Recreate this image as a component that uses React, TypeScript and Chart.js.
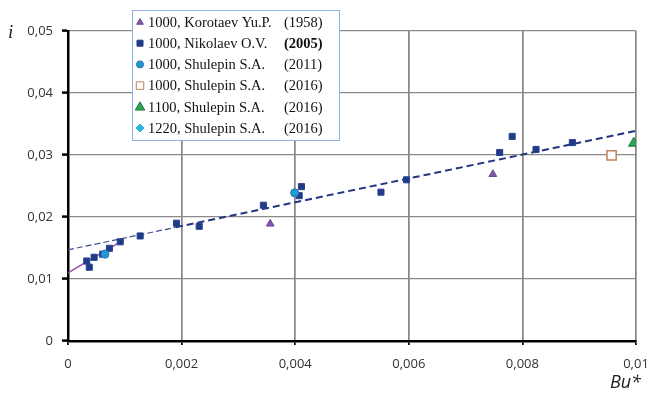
import React, { useEffect, useRef } from "react";
import { Chart, registerables } from "chart.js";

Chart.register(...registerables);

// ---- data ----
const korotaevBu = [0.00356, 0.00748];
const korotaevI = [0.0189, 0.0269];

const nikolaevBu = [0.00033, 0.000375, 0.00046, 0.00061, 0.00073, 0.00092, 0.00127, 0.00191, 0.00231, 0.00344, 0.00407, 0.00411, 0.00551, 0.00596, 0.0076, 0.00782, 0.00824, 0.00888];
const nikolaevI = [0.0129, 0.0119, 0.0135, 0.014, 0.01495, 0.016, 0.01694, 0.019, 0.0185, 0.0219, 0.02344, 0.0249, 0.024, 0.026, 0.0304, 0.033, 0.0309, 0.032];

const shulepin2011Bu = [0.00065, 0.00399];
const shulepin2011I = [0.014, 0.0239];

const shulepin2016Bu = [0.00957];
const shulepin2016I = [0.02995];

const shulepin1100Bu = [0.00996];
const shulepin1100I = [0.0319];

const shulepin1220Bu: number[] = [];
const shulepin1220I: number[] = [];

const lowFitBu = [0, 0.00092];
const lowFitI = [0.011, 0.016];

const trendBackBu = [0, 0.0019];
const trendBackI = [0.0147, 0.01835];
const trendBu = [0.0019, 0.01];
const trendI = [0.01835, 0.0339];

const xTicks = [0, 0.002, 0.004, 0.006, 0.008, 0.01];
const yTicks = [0, 0.01, 0.02, 0.03, 0.04, 0.05];

const legendLabels = [
  "1000, Korotaev Yu.P.",
  "1000, Nikolaev O.V.",
  "1000, Shulepin S.A.",
  "1000, Shulepin S.A.",
  "1100, Shulepin S.A.",
  "1220, Shulepin S.A.",
];
const legendYears = ["(1958)", "(2005)", "(2011)", "(2016)", "(2016)", "(2016)"];

const pts = (xs: number[], ys: number[]) => xs.map((x, i) => ({ x, y: ys[i] }));
const fmt = (v: number) => String(Number(v.toFixed(4))).replace(".", ",");

const LABEL_FONT = "'Open Sans', sans-serif";
const SERIF = "'Liberation Serif', 'Times New Roman', serif";

export default function App() {
  const ref = useRef<HTMLCanvasElement | null>(null);

  useEffect(() => {
    if (!ref.current) return;

    const markerStyles = [
      { style: "triangle", bg: "#7E5AA6", border: "#6A4A92", r: 3.5 },
      { style: "rect", bg: "#213A86", border: "#213A86", r: 4 },
      { style: "circle", bg: "#1E9AD6", border: "#2C6FB0", r: 3.5 },
      { style: "rect", bg: "#ffffff", border: "#C0805A", r: 5 },
      { style: "triangle", bg: "#2FA35A", border: "#1E7A40", r: 5 },
      { style: "rectRot", bg: "#2BB3E3", border: "#2BB3E3", r: 4 },
    ];

    function drawMarker(ctx: CanvasRenderingContext2D, style: string, x: number, y: number, r: number, bg: string, border: string) {
      ctx.beginPath();
      if (style === "triangle") {
        ctx.moveTo(x, y - r);
        ctx.lineTo(x + r * 0.95, y + r * 0.65);
        ctx.lineTo(x - r * 0.95, y + r * 0.65);
        ctx.closePath();
      } else if (style === "rect") {
        const s = r * 0.75;
        ctx.rect(x - s, y - s, 2 * s, 2 * s);
      } else if (style === "circle") {
        ctx.arc(x, y, r, 0, Math.PI * 2);
      } else {
        ctx.moveTo(x, y - r);
        ctx.lineTo(x + r, y);
        ctx.lineTo(x, y + r);
        ctx.lineTo(x - r, y);
        ctx.closePath();
      }
      ctx.fillStyle = bg;
      ctx.fill();
      ctx.lineWidth = 1;
      ctx.strokeStyle = border;
      ctx.stroke();
    }

    const overlay = {
      id: "overlay",
      afterDraw(chart: any) {
        const ctx = chart.ctx as CanvasRenderingContext2D;
        ctx.save();
        // axis titles
        ctx.fillStyle = "#222";
        ctx.textBaseline = "middle";
        ctx.font = "italic 19px " + SERIF;
        ctx.textAlign = "left";
        ctx.fillText("i", 8, 33);
        ctx.font = "italic 18px 'Open Sans', sans-serif";
        ctx.textAlign = "right";
        ctx.fillText("Bu*", 641, 383);

        // legend box
        const bx = 132.5, by = 10.5, bw = 207, bh = 130;
        ctx.fillStyle = "#ffffff";
        ctx.fillRect(bx, by, bw, bh);
        ctx.strokeStyle = "#8EB4E3";
        ctx.lineWidth = 1;
        ctx.strokeRect(bx, by, bw, bh);

        for (let i = 0; i < legendLabels.length; i++) {
          const cy = 22 + i * 21.2;
          const m = markerStyles[i];
          drawMarker(ctx, m.style, 140, cy, m.r, m.bg, m.border);
          ctx.fillStyle = "#111";
          ctx.textAlign = "left";
          ctx.textBaseline = "middle";
          ctx.font = "14.5px " + SERIF;
          ctx.fillText(legendLabels[i], 148, cy + 1);
          ctx.font = (i === 1 ? "bold " : "") + "14.5px " + SERIF;
          ctx.fillText(legendYears[i], 284, cy + 1);
        }
        ctx.restore();
      },
    };

    const lineDs = (data: any, color: string, width: number, dash: number[]) => ({
      type: "line" as const,
      data,
      borderColor: color,
      borderWidth: width,
      borderDash: dash,
      pointRadius: 0,
      showLine: true,
      fill: false,
      order: 5,
    });

    const chart = new Chart(ref.current, {
      type: "scatter",
      data: {
        datasets: [
          lineDs(pts(lowFitBu, lowFitI), "#9A4FB0", 1.5, []),
          lineDs(pts(trendBackBu, trendBackI), "#3D4F92", 1.2, [6, 3]),
          lineDs(pts(trendBu, trendI), "#22377F", 2, [7, 4]),
          {
            data: pts(korotaevBu, korotaevI),
            pointStyle: "triangle",
            pointRadius: 4.5,
            backgroundColor: "#7E5AA6",
            borderColor: "#6A4A92",
            borderWidth: 1,
            order: 1,
          },
          {
            data: pts(nikolaevBu, nikolaevI),
            pointStyle: "rect",
            pointRadius: 4.3,
            backgroundColor: "#213A86",
            borderColor: "#2A4390",
            borderWidth: 1,
            order: 1,
          },
          {
            data: pts(shulepin2011Bu, shulepin2011I),
            pointStyle: "circle",
            pointRadius: 4,
            backgroundColor: "#1E9AD6",
            borderColor: "#2C6FB0",
            borderWidth: 1,
            order: 0,
          },
          {
            data: pts(shulepin2016Bu, shulepin2016I),
            pointStyle: "rect",
            pointRadius: 6.5,
            backgroundColor: "#ffffff",
            borderColor: "#C0805A",
            borderWidth: 1.5,
            order: 1,
          },
          {
            data: pts(shulepin1100Bu, shulepin1100I),
            pointStyle: "triangle",
            pointRadius: 6,
            backgroundColor: "#2FA35A",
            borderColor: "#1E7A40",
            borderWidth: 1,
            order: 1,
          },
          {
            data: pts(shulepin1220Bu, shulepin1220I),
            pointStyle: "rectRot",
            pointRadius: 5,
            backgroundColor: "#2BB3E3",
            borderColor: "#2BB3E3",
            order: 1,
          },
        ] as any,
      },
      options: {
        animation: false,
        responsive: false,
        devicePixelRatio: 1,
        layout: { padding: { top: 31, right: 14, left: 0, bottom: 0 } },
        plugins: { legend: { display: false }, tooltip: { enabled: false } },
        scales: {
          x: {
            type: "linear",
            min: 0,
            max: 0.01,
            afterBuildTicks: (axis: any) => {
              axis.ticks = xTicks.map((v) => ({ value: v }));
            },
            afterFit: (axis: any) => {
              axis.height = 56;
              axis.paddingLeft = 0;
              axis.paddingRight = 0;
            },
            ticks: {
              callback: (v: any) => fmt(Number(v)),
              color: "#333",
              font: { family: LABEL_FONT, size: 13 },
              padding: 11,
              maxRotation: 0,
            },
            grid: {
              color: "#858585",
              lineWidth: 1.7,
              tickColor: "#000",
              tickLength: 4,
              drawTicks: true,
            },
            border: { color: "#000", width: 2.5 },
          },
          y: {
            type: "linear",
            min: 0,
            max: 0.05,
            afterBuildTicks: (axis: any) => {
              axis.ticks = yTicks.map((v) => ({ value: v }));
            },
            afterFit: (axis: any) => {
              axis.width = 68;
              axis.paddingTop = 0;
              axis.paddingBottom = 0;
            },
            ticks: {
              callback: (v: any) => fmt(Number(v)),
              color: "#333",
              font: { family: LABEL_FONT, size: 13 },
              padding: 9,
            },
            grid: {
              color: "#8a8a8a",
              lineWidth: 1.2,
              tickColor: "#000",
              tickLength: 6,
              tickWidth: 2.5,
            },
            border: { color: "#000", width: 2.5 },
          },
        },
      } as any,
      plugins: [overlay],
    });

    return () => chart.destroy();
  }, []);

  return (
    <div style={{ position: "absolute", left: 0, top: 0, width: 650, height: 397, background: "#fff" }}>
      <canvas ref={ref} width={650} height={397} />
    </div>
  );
}
